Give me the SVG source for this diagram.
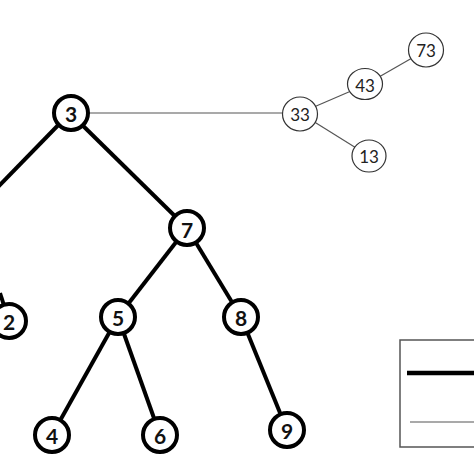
<svg xmlns="http://www.w3.org/2000/svg" width="474" height="474" viewBox="0 0 474 474">
<style>
.bn circle{fill:#fff;stroke:#000;stroke-width:4}
.bn text{font-family:Lato,"Liberation Sans",sans-serif;font-size:21px;font-weight:bold;text-anchor:middle;dominant-baseline:central;fill:#111}
.tn ellipse{fill:#fff;stroke:#333;stroke-width:1.2}
.tn text{font-family:Lato,"Liberation Sans",sans-serif;font-size:17px;text-anchor:middle;dominant-baseline:central;fill:#222}
.thick{stroke:#000;stroke-width:4;fill:none}
.thin{stroke:#555;stroke-width:1.2;fill:none}
</style>
<rect width="474" height="474" fill="#fff"/>
<g id="connectors">
<line class="thick" x1="70" y1="113" x2="-2" y2="187"/>
<line class="thick" x1="70" y1="113" x2="187" y2="228"/>
<line class="thick" x1="187" y1="228" x2="118" y2="317"/>
<line class="thick" x1="187" y1="228" x2="241" y2="317"/>
<line class="thick" x1="0" y1="293" x2="9" y2="321"/>
<line class="thick" x1="118" y1="317" x2="52" y2="435"/>
<line class="thick" x1="118" y1="317" x2="160" y2="435"/>
<line class="thick" x1="241" y1="317" x2="287" y2="430"/>
<line class="thin" x1="88" y1="113" x2="300" y2="113"/>
<line class="thin" x1="300" y1="113" x2="365" y2="85"/>
<line class="thin" x1="365" y1="85" x2="426" y2="50"/>
<line class="thin" x1="300" y1="113" x2="369" y2="156"/>
</g>
<g id="n3" class="bn"><circle cx="71" cy="113" r="17"/><text x="71" y="113">3</text></g>
<g id="n7" class="bn"><circle cx="187" cy="228" r="17"/><text x="187" y="229">7</text></g>
<g id="n2" class="bn"><circle cx="9" cy="321" r="17"/><text x="9" y="321">2</text></g>
<g id="n5" class="bn"><circle cx="118" cy="317" r="17"/><text x="118" y="317">5</text></g>
<g id="n8" class="bn"><circle cx="241" cy="317" r="17"/><text x="241" y="317">8</text></g>
<g id="n4" class="bn"><circle cx="52" cy="435" r="17"/><text x="52" y="435">4</text></g>
<g id="n6" class="bn"><circle cx="160" cy="435" r="17"/><text x="160" y="435">6</text></g>
<g id="n9" class="bn"><circle cx="287" cy="430" r="17"/><text x="287" y="430">9</text></g>
<g id="n33" class="tn"><ellipse cx="300" cy="114" rx="17.5" ry="17"/><text x="300" y="114">33</text></g>
<g id="n43" class="tn"><ellipse cx="365" cy="84" rx="17.5" ry="15.5"/><text x="365" y="85">43</text></g>
<g id="n73" class="tn"><ellipse cx="426" cy="50" rx="17.5" ry="17"/><text x="426" y="50">73</text></g>
<g id="n13" class="tn"><ellipse cx="369" cy="156" rx="17" ry="16"/><text x="369" y="156">13</text></g>
<g id="legend">
<rect x="400" y="340" width="90" height="107" fill="#fff" stroke="#555" stroke-width="1.5"/>
<line x1="407" y1="373" x2="480" y2="373" stroke="#000" stroke-width="4.5"/>
<line x1="410" y1="422" x2="480" y2="422" stroke="#555" stroke-width="1.2"/>
</g>
</svg>
